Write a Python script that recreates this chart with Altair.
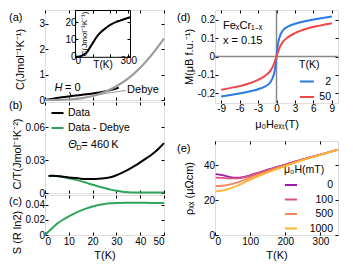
import altair as alt
import pandas as pd

FONT = "Liberation Sans"
GREEN = "#2ea55a"
GRAY = "#9b9b9b"
BLUE = "#2a7be4"
RED = "#f04848"
PLASMA = ["#9f1aa6", "#d6527f", "#f3865f", "#fdb52f"]

# ---------------- data ----------------
# (a) C(T), J/mol/K
a_T_data = [0, 2, 5, 10, 15, 20, 25, 28, 31]
a_C_data = [0, 0.03, 0.078, 0.142, 0.197, 0.255, 0.335, 0.40, 0.49]
a_T_debye = [0, 5, 10, 15, 20, 25, 30, 35, 40, 45, 50]
a_C_debye = [0, 0.002, 0.02, 0.066, 0.16, 0.31, 0.54, 0.85, 1.27, 1.80, 2.42]
# (a) inset, 0-310 K
inset_T = [0, 20, 30, 40, 50, 60, 72, 80, 90, 100, 117, 130, 145, 163, 185, 209, 230, 255, 280, 310]
inset_C = [0, 0.1, 0.3, 0.7, 1.3, 2.1, 3.2, 4.6, 6.3, 7.9, 10.7, 12.5, 14.2, 15.7, 17.5, 19.0, 20.0, 20.9, 21.8, 22.8]
# (b) C/T
b_T = [1.5, 3, 5, 7.5, 10, 12.5, 15, 17.5, 20, 22.5, 25, 27.5, 30, 32.5, 35, 37.5, 40, 42.5, 45, 47.5, 50]
b_data = [0.0155, 0.0158, 0.0155, 0.0149, 0.0142, 0.0136, 0.0131, 0.0128, 0.0127, 0.0129, 0.0134,
          0.0144, 0.0162, 0.0186, 0.0214, 0.0246, 0.0280, 0.0316, 0.0354, 0.0400, 0.0455]
b_diff = [0.0155, 0.0158, 0.0154, 0.0146, 0.0135, 0.0122, 0.0108, 0.0092, 0.0076, 0.0060, 0.0045,
          0.0031, 0.0020, 0.0011, 0.0006, 0.0004, 0.0004, 0.0004, 0.0004, 0.0004, 0.0004]
b_series = ["Data", "Data - Debye"]
# (c) entropy
c_T = [0, 2.5, 5, 7.5, 10, 12.5, 15, 17.5, 20, 22.5, 25, 27.5, 30, 35, 40, 45, 50]
c_S = [0, 0.0075, 0.0146, 0.0200, 0.0245, 0.0285, 0.0320, 0.0350, 0.0374, 0.0393, 0.0407,
       0.0416, 0.0421, 0.0424, 0.0423, 0.0421, 0.0419]
# (d) M(H)
d_H = [-9, -7, -5, -3, -2, -1, -0.5, -0.25, -0.1, 0, 0.1, 0.25, 0.5, 1, 2, 3, 5, 7, 9]
d_M2 = [-0.218, -0.207, -0.195, -0.178, -0.165, -0.14, -0.105, -0.07, -0.035, 0,
        0.035, 0.07, 0.105, 0.14, 0.165, 0.178, 0.195, 0.207, 0.218]
d_M50 = [-0.181, -0.168, -0.152, -0.127, -0.108, -0.078, -0.048, -0.025, -0.01, 0,
         0.01, 0.025, 0.048, 0.078, 0.108, 0.127, 0.152, 0.168, 0.181]
d_temps = ["2", "50"]
# (e) rho_xx(T)
e_T = [2, 20, 40, 60, 80, 100, 125, 150, 175, 200, 250, 300, 350]
e_0 = [35.0, 34.4, 33.4, 32.9, 33.2, 34.3, 35.9, 37.5, 39.0, 40.5, 43.5, 46.2, 49.0]
e_100 = [33.0, 32.8, 32.5, 32.5, 33.0, 34.0, 35.7, 37.3, 38.9, 40.4, 43.4, 46.2, 49.0]
e_500 = [28.0, 28.3, 29.0, 30.0, 31.3, 33.0, 34.9, 36.6, 38.3, 39.9, 43.2, 46.1, 49.0]
e_1000 = [25.0, 25.5, 26.5, 28.0, 29.8, 31.8, 34.0, 35.9, 37.8, 39.6, 43.0, 46.0, 49.0]
e_fields = ["0", "100", "500", "1000"]

# ---------------- sizes ----------------
LW, RW = 119, 123
A_H, B_H, C_H = 90, 91, 40
D_H, E_H = 93, 94
LBL = "replace(toString(datum.value), '\u2212', '-')"


def ax(orient, values, labels=True, title=None, **kw):
    pad = 3.5 if orient in ("left", "right") else 4
    d = dict(orient=orient, values=values, labels=labels, ticks=True,
             tickSize=alt.ExprRef(expr="-3"), tickColor="black", tickWidth=1,
             domain=False, grid=False, labelExpr=LBL,
             labelFont=FONT, labelFontSize=10, labelColor="black", labelPadding=pad,
             titleFont=FONT, titleFontSize=11, titleColor="black", titleFontWeight="normal")
    d["title"] = title
    d.update(kw)
    return alt.Axis(**d)


def ytitle(x, y):
    return dict(titleX=x, titleY=y, titleAngle=270, titleBaseline="bottom", titleAlign="center")


def qx(field, dom, axis=None, rng=None):
    sc = alt.Scale(domain=dom, nice=False, zero=False) if rng is None else \
        alt.Scale(domain=dom, range=rng, nice=False, zero=False)
    return alt.X(f"{field}:Q", scale=sc, axis=axis)


def qy(field, dom, axis=None, rng=None):
    sc = alt.Scale(domain=dom, nice=False, zero=False) if rng is None else \
        alt.Scale(domain=dom, range=rng, nice=False, zero=False)
    return alt.Y(f"{field}:Q", scale=sc, axis=axis)


def panel_label(txt, x, y):
    return alt.Chart(pd.DataFrame({"t": [txt]})).mark_text(
        align="left", baseline="middle", font=FONT, fontSize=11, color="black"
    ).encode(x=alt.value(x), y=alt.value(y), text="t:N")


def texts(df, dom_x, dom_y, **mk):
    base = dict(align="left", baseline="middle", font=FONT, fontSize=11, color="black")
    base.update(mk)
    return alt.Chart(df).mark_text(**base).encode(
        x=qx("x", dom_x), y=qy("y", dom_y), text="t:N")


def ghost(df, xf, yf, xd, yd, xaxis, yaxis, xr=None, yr=None):
    return alt.Chart(df).mark_point(opacity=0, size=1).encode(
        x=qx(xf, xd, xaxis, xr), y=qy(yf, yd, yaxis, yr))


def flat(*layers):
    return alt.layer(*layers).resolve_scale(x="independent", y="independent") \
        .resolve_axis(x="independent", y="independent")


T50 = [0, 10, 20, 30, 40, 50]

# ---------------- (a) ----------------
A_X, A_Y = [0, 50], [0, 3.55]
df_ad = pd.DataFrame({"T": a_T_data, "C": a_C_data})
df_ab = pd.DataFrame({"T": a_T_debye, "C": a_C_debye})
df_in = pd.DataFrame({"T": inset_T, "C": inset_C})
a_data = alt.Chart(df_ad).mark_line(color="black", strokeWidth=2, interpolate="monotone").encode(
    x=qx("T", A_X, ax("bottom", T50, labels=False)),
    y=qy("C", A_Y, ax("left", [0, 1, 2, 3], title="C(Jmol\u207b\u00b9K\u207b\u00b9)", **ytitle(-20, A_H / 2 + 4))))
a_deb = alt.Chart(df_ab).mark_line(color=GRAY, strokeWidth=2.2, interpolate="monotone").encode(
    x=qx("T", A_X), y=qy("C", A_Y))
a_mir = ghost(df_ab, "T", "C", A_X, A_Y, ax("top", T50, labels=False), ax("right", [0, 1, 2, 3], labels=False))
a_ptr = alt.Chart(pd.DataFrame({"x": [21.5, 10.4], "y": [0.2, 0.31], "x2": [34.0, 10.9], "y2": [0.38, 0.17],
                                "c": [GRAY, "black"]})).mark_rule(strokeWidth=1).encode(
    x=qx("x", A_X), y=qy("y", A_Y), x2="x2:Q", y2="y2:Q", color=alt.Color("c:N", scale=None))
a_t1 = texts(pd.DataFrame({"x": [4.0], "y": [0.46], "t": ["H"]}), A_X, A_Y, fontStyle="italic")
a_t2 = texts(pd.DataFrame({"x": [8.4, 34.5], "y": [0.46, 0.41], "t": ["= 0", "Debye"]}), A_X, A_Y)
IN_X, IN_Y = [0, 310], [0, 27]
IN_XR, IN_YR = [30, 85], [46.8, 0]
in_line = alt.Chart(df_in).mark_line(color="black", strokeWidth=2, interpolate="monotone").encode(
    x=qx("T", IN_X, ax("bottom", [0, 100, 200, 300], offset=-(A_H - 46.8), domain=True, domainColor="black",
                       labelPadding=2,
                       labelExpr="datum.value == 0 || datum.value == 300 ? datum.label : ''",
                       title="T(K)", titleX=57.5, titleY=8, titleBaseline="middle", titleFontSize=10),
            rng=IN_XR),
    y=qy("C", IN_Y, ax("left", [0, 10, 20], offset=-30, domain=True, domainColor="black", labelPadding=2,
                       title="C(Jmol\u207b\u00b9K\u207b\u00b9)", titleFontSize=8,
                       **ytitle(13, 23.4)),
            rng=IN_YR))
in_mir = ghost(df_in, "T", "C", IN_X, IN_Y,
               ax("top", [0, 100, 200, 300], labels=False, domain=True, domainColor="black"),
               ax("right", [0, 10, 20], labels=False, domain=True, domainColor="black", offset=-(LW - 85)),
               IN_XR, IN_YR)
pa = flat(a_data, a_deb, a_mir, a_ptr, a_t1, a_t2, in_line, in_mir,
          panel_label("(a)", -36, 8)).properties(width=LW, height=A_H)

# ---------------- (b) ----------------
B_X, B_Y = [0, 50], [0, 0.083]
df_bd = pd.DataFrame({"T": b_T, "v": b_data, "s": b_series[0]})
df_bg = pd.DataFrame({"T": b_T, "v": b_diff, "s": b_series[1]})
b_leg = alt.Legend(orient="none", legendX=5.5, legendY=4, title=None, symbolType="stroke",
                   symbolStrokeWidth=2, symbolSize=144, labelFont=FONT, labelFontSize=10.5,
                   labelColor="black", labelOffset=3.5, padding=0, rowPadding=2)
b_col = alt.Color("s:N", scale=alt.Scale(domain=b_series, range=["black", GREEN]), legend=b_leg)
b_g = alt.Chart(df_bg).mark_line(strokeWidth=2, interpolate="monotone").encode(
    x=qx("T", B_X), y=qy("v", B_Y), color=b_col)
b_d = alt.Chart(df_bd).mark_line(strokeWidth=2, interpolate="monotone").encode(
    x=qx("T", B_X, ax("bottom", T50, labels=False)),
    y=qy("v", B_Y, ax("left", [0, 0.03, 0.06], title="C/T(Jmol\u207b\u00b9K\u207b\u00b2)",
                      **ytitle(-23, B_H / 2 + 6))),
    color=b_col)
b_mir = ghost(df_bd, "T", "v", B_X, B_Y, ax("top", T50, labels=False), ax("right", [0, 0.03, 0.06], labels=False))
b_th = texts(pd.DataFrame({"x": [9.8], "y": [0.0436], "t": ["\u0398"]}), B_X, B_Y, fontStyle="italic")
b_sub = texts(pd.DataFrame({"x": [9.8], "y": [0.0436], "t": ["D"]}), B_X, B_Y, fontSize=7.5, dx=8, dy=3)
b_eq = texts(pd.DataFrame({"x": [9.8], "y": [0.0436], "t": ["= 460\u2009K"]}), B_X, B_Y, dx=13)
pb = flat(b_g, b_d, b_mir, b_th, b_sub, b_eq, panel_label("(b)", -36, 4)).properties(width=LW, height=B_H)

# ---------------- (c) ----------------
C_X, C_Y = [0, 50], [0, 0.0525]
df_c = pd.DataFrame({"T": c_T, "S": c_S})
c_l = alt.Chart(df_c).mark_line(color=GREEN, strokeWidth=2, interpolate="monotone").encode(
    x=qx("T", C_X, ax("bottom", T50, title="T(K)", titlePadding=3, labelPadding=4.5)),
    y=qy("S", C_Y, ax("left", [0, 0.02, 0.04], title="S (R ln2)", **ytitle(-23, 37))))
c_mir = ghost(df_c, "T", "S", C_X, C_Y, ax("top", T50, labels=False), ax("right", [0, 0.02, 0.04], labels=False))
pc = flat(c_l, c_mir, panel_label("(c)", -36, 7)).properties(width=LW, height=C_H)

# ---------------- (d) ----------------
D_X, D_Y = [-10, 10], [-0.253, 0.253]
df_d = pd.concat([pd.DataFrame({"H": d_H, "M": d_M2, "T": d_temps[0]}),
                  pd.DataFrame({"H": d_H, "M": d_M50, "T": d_temps[1]})])
d_leg = alt.Legend(orient="none", legendX=84, legendY=50, title="T(K)", symbolType="stroke",
                   symbolStrokeWidth=2, symbolSize=196, labelFont=FONT, labelFontSize=10.5,
                   labelColor="black", labelAlign="right", labelOffset=16, padding=0, rowPadding=1.5,
                   titleFont=FONT, titleFontSize=10.5, titleFontWeight="normal", titleColor="black",
                   titlePadding=3)
zx = alt.Chart(pd.DataFrame({"x": [0]})).mark_rule(color="#8a8a8a", strokeWidth=1.5).encode(x=qx("x", D_X))
zy = alt.Chart(pd.DataFrame({"y": [0]})).mark_rule(color="#8a8a8a", strokeWidth=1.5).encode(y=qy("y", D_Y))
d_l = alt.Chart(df_d).mark_line(strokeWidth=2, interpolate="monotone").encode(
    x=qx("H", D_X, ax("bottom", [-9, -6, -3, 0, 3, 6, 9], title="\u03bc\u2080H\u2091\u2093\u209c(T)",
                      titlePadding=5, labelPadding=3)),
    y=qy("M", D_Y, ax("left", [-0.2, -0.1, 0, 0.1, 0.2], title="M(\u03bcB f.u.\u207b\u00b9)",
                      **ytitle(-21, D_H / 2))),
    color=alt.Color("T:N", scale=alt.Scale(domain=d_temps, range=[BLUE, RED]), legend=d_leg))
d_mir = ghost(df_d, "H", "M", D_X, D_Y, ax("top", [-9, -6, -3, 0, 3, 6, 9], labels=False),
              ax("right", [-0.2, -0.1, 0, 0.1, 0.2], labels=False))
d_t = texts(pd.DataFrame({"x": [-8.7, -8.7], "y": [0.166, 0.084],
                          "t": ["Fe\u2093Cr\u2081\u208b\u2093", "x = 0.15"]}), D_X, D_Y)
pd_ = flat(zx, zy, d_l, d_mir, d_t, panel_label("(d)", -38, 8)).properties(width=RW, height=D_H)

# ---------------- (e) ----------------
E_X, E_Y = [0, 350], [0, 54]
df_e = pd.concat([pd.DataFrame({"T": e_T, "r": v, "f": f})
                  for v, f in zip([e_0, e_100, e_500, e_1000], e_fields)])
e_leg = alt.Legend(orient="none", legendX=69, legendY=23.5, title="\u03bc\u2080H(mT)", symbolType="stroke",
                   symbolStrokeWidth=2, symbolSize=144, labelFont=FONT, labelFontSize=10.5,
                   labelColor="black", labelAlign="right", labelOffset=35, padding=0, rowPadding=1.5,
                   titleFont=FONT, titleFontSize=10.5, titleFontWeight="normal", titleColor="black",
                   titlePadding=3)
e_l = alt.Chart(df_e).mark_line(strokeWidth=1.8, interpolate="monotone").encode(
    x=qx("T", E_X, ax("bottom", [0, 100, 200, 300], title="T(K)", titlePadding=3, labelPadding=4.5)),
    y=qy("r", E_Y, ax("left", [0, 20, 40], title="\u03c1\u2093\u2093 (\u03bc\u03a9cm)", **ytitle(-21, E_H / 2))),
    color=alt.Color("f:N", scale=alt.Scale(domain=e_fields, range=PLASMA), legend=e_leg))
e_mir = ghost(df_e, "T", "r", E_X, E_Y, ax("top", [0, 100, 200, 300], labels=False),
              ax("right", [0, 20, 40], labels=False))
pe = flat(e_l, e_mir, panel_label("(e)", -38, 8)).properties(width=RW, height=E_H)

left = alt.vconcat(pa, pb, pc, spacing=2, bounds="flush").resolve_scale(color="independent")
right = alt.vconcat(pd_, pe, spacing=38, bounds="flush").resolve_scale(color="independent")
chart = alt.hconcat(left, right, spacing=7).resolve_scale(color="independent").properties(
    padding=0, background="white"
).configure_view(stroke="black", strokeWidth=1).configure(font=FONT)

chart.save("out.html", embed_options={"renderer": "svg", "actions": False})
